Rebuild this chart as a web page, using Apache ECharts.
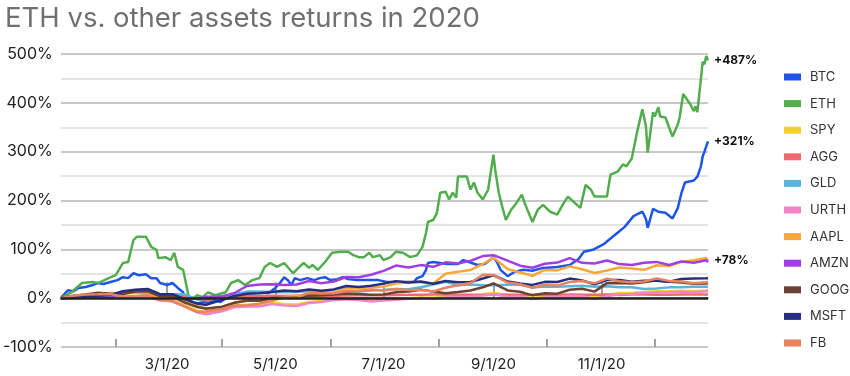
<!DOCTYPE html>
<html>
<head>
<meta charset="utf-8">
<script src="https://cdn.jsdelivr.net/npm/echarts@6/dist/echarts.min.js"></script>
<style>
html,body{margin:0;padding:0;background:#fff;}
#chart{width:850px;height:376px;}
</style>
</head>
<body>
<div id="chart"></div>
<script>
// ---- data (x = day of year 2020, 0 = Jan 1) ----
var assetNames = ['BTC','ETH','SPY','AGG','GLD','URTH','AAPL','AMZN','GOOG','MSFT','FB'];
var majorTickDays = [60,121,182,244,305];
var tickLabels = ['3/1/20','5/1/20','7/1/20','9/1/20','11/1/20'];
var minorTickDays = [31,91,152,213,274,335];

var ethPoints = [[0,0],[6,12],[12,31],[18,33],[21,31],[27,41],[31,47],[35,72],[38,74],[41,119],[43,126],[48,126],[51,105],[54,99],[55,82],[59,84],[62,78],[64,93],[66,64],[69,58],[72,6],[73,-4],[77,6],[80,2],[83,12],[87,6],[93,12],[96,31],[100,37],[104,27],[108,37],[112,41],[115,64],[118,72],[122,64],[126,72],[131,51],[134,62],[137,72],[140,62],[142,68],[145,58],[149,74],[153,93],[158,95],[162,95],[165,88],[168,84],[171,84],[174,93],[176,84],[180,88],[182,78],[186,84],[189,95],[190,93],[193,93],[197,84],[201,88],[204,105],[206,134],[207,156],[210,160],[212,173],[214,216],[217,218],[219,202],[221,216],[223,206],[224,249],[229,249],[231,222],[233,237],[235,216],[238,202],[241,222],[244,294],[245,263],[247,216],[249,187],[251,160],[254,181],[257,195],[260,212],[262,191],[266,156],[269,181],[272,191],[276,177],[280,171],[283,191],[286,208],[289,198],[293,185],[296,232],[299,222],[301,208],[306,208],[308,208],[310,253],[314,259],[317,274],[319,270],[322,286],[325,340],[328,387],[330,352],[331,298],[334,381],[335,372],[337,391],[338,372],[341,370],[343,350],[345,331],[348,356],[349,370],[351,418],[352,422],[355,397],[357,383],[358,393],[359,381],[361,449],[362,484],[363,479],[364,496],[365,487]];

var btcPoints = [[0,0],[4,16],[7,14],[10,21],[14,23],[18,27],[21,31],[24,29],[28,33],[32,37],[35,43],[38,41],[41,51],[44,47],[48,49],[51,41],[54,41],[56,31],[60,27],[63,31],[66,21],[69,12],[70,2],[72,-4],[75,-14],[78,-10],[81,-8],[83,-10],[87,-4],[90,-8],[93,0],[97,6],[100,2],[103,10],[106,12],[110,12],[114,12],[117,10],[121,21],[124,33],[126,43],[128,37],[130,27],[132,41],[135,37],[139,41],[143,37],[146,41],[149,43],[152,37],[156,39],[159,43],[162,39],[167,37],[173,37],[179,37],[184,33],[190,33],[195,33],[199,33],[201,41],[204,45],[206,58],[207,72],[210,74],[214,72],[218,70],[224,70],[227,78],[231,73],[235,68],[239,70],[244,84],[246,74],[248,58],[252,45],[256,54],[261,58],[266,56],[272,62],[280,64],[287,68],[292,80],[295,95],[300,99],[306,110],[309,119],[314,134],[318,146],[323,168],[328,177],[330,162],[331,144],[334,183],[337,177],[341,175],[345,163],[348,185],[349,200],[350,215],[352,237],[357,241],[359,249],[361,270],[362,290],[363,300],[364,311],[365,321]];

var weekDays = [0,7,14,21,28,35,42,49,56,63,70,77,82,91,98,105,112,119,126,133,140,147,154,161,168,175,182,189,196,203,210,217,224,231,238,244,252,259,266,273,280,287,294,301,308,315,322,329,336,343,350,357,364,365];

var spyValues = [0,0.8,2.5,2.9,1.5,3.4,4.8,5.1,-2.8,-2.5,-14.8,-25.4,-30.7,-23.6,-14.9,-13.7,-13.3,-9,-11.8,-12.8,-7.8,-5.7,-3.1,-0.9,-3.1,-5.5,-3.5,-1.4,0,1.5,1,3.2,4.8,5,8,11.1,5.6,5.2,0.2,4,5.9,8,6.5,1.5,6.7,10.8,10.7,12.8,14,14,15,14.2,15.6,16.2];
var aggValues = [0,0.3,0.8,1.2,1.8,1.8,2,2.6,3.6,4.5,4,-2,-5,2,2.5,4,4.3,4.8,4.5,5,5.2,5.3,4.8,5.5,5.8,6.1,6.2,6.6,6.8,7.2,7.5,7.8,7,7.2,6.6,7.2,7.1,7.2,7.2,7.3,6.8,7.2,6.8,6.9,7.4,6.6,7.3,7.3,7.1,7.2,7.3,7.3,7.5,7.5];
var gldValues = [0,2.8,1.5,2.2,3.6,2.2,3.6,6.2,7.8,7.8,7.8,-2.7,-1.3,4.3,8.5,13.4,13.8,12.5,12,12.7,14.8,12,11.3,13.4,13.4,15.5,16.9,18.6,18.3,22.2,28,33.7,26.7,28,26.7,26.7,27.6,28,21.8,23.9,23.2,24.6,25.3,23.2,24.6,22.5,22.5,18.6,19.7,22.1,22.5,23.2,23.4,24.1];
var urthValues = [0,0.5,2,2.2,0,2,3.5,3.5,-5,-5,-17,-29,-33,-27,-18,-17,-17,-12,-15,-16,-10,-8,-4,-2,-4,-7,-5,-3,-1,0.5,-1,1.5,3,3,5.5,8,3,3.5,-1.5,1.5,3,5,4,-1.5,4,8,8.5,10.5,11.5,12,13,12,14,14];
var aaplValues = [0,3.3,6,8.2,10.4,9.5,11.4,10.6,-0.3,3.1,-6.1,-16,-23.6,-18,-9.4,-3.1,-6,-2,2.4,4.8,8.6,8.3,10.7,20.1,19.7,22.6,24,29.8,33.1,32.5,29.4,49.8,54,57.6,70,83,59.8,52.7,45.9,57.7,56.8,65.1,59.2,51.5,56.6,62.8,60.7,58,67.5,65.9,74.2,77.5,82.1,78];
var amznValues = [0,2.3,0.8,2.1,0.6,10.3,16.4,17.4,7.1,6.9,-1.4,-1,2.9,3.2,10.6,24.9,27.9,28.4,27.2,28.1,35.1,30.4,34.1,43.3,42.9,48,55.8,66.7,62.8,67.7,64.2,73.4,71.1,76.4,86.2,88,76.9,66.6,62.3,70.4,72.9,82,72.3,71.1,77,69.8,68,72.4,74.3,68,75.3,72.4,77.8,74];
var googValues = [0,5,7.6,11.1,9,8.3,13.6,14.1,4,3.7,-9.1,-18,-21,-17.4,-9.4,-5.5,-5.5,0.4,0.7,0.9,5.2,6,7.6,9.6,8.5,7.1,7.6,12,13.6,17.3,13.8,10.2,12.6,15.7,22.2,30.1,15.9,13.1,5.8,9.9,9.2,17.3,19.1,13.4,30.8,31,29.9,32.5,36.6,33.4,31.9,29.5,30,31];
var msftValues = [0,3.4,3.5,5.1,6.5,14.1,17.1,18.8,8.2,8.2,-2.6,-11,-13.8,-3.6,4.6,9,10,12.5,15.7,14,17.8,15.3,17.6,24.8,23.1,25.4,29.8,34.9,31.9,34.3,29.4,35,32.5,33,40.3,46.9,34,30,27.2,33.4,33,40.1,36.1,28.5,37.2,37.4,33.8,35.6,35.8,33.8,39.1,40.1,40.6,41];
var fbValues = [0,4.8,7.7,7.8,8.7,2.8,3.8,6,-4,-6.9,-17.2,-28.4,-27.4,-22.2,-15.2,-14.3,-11.2,-5.4,1.6,-0.1,11.6,9.6,10.1,14,14.5,17.9,15.7,18.7,16.8,16.9,13.7,21.3,26.6,31.1,48.1,47.4,32,28.6,21.3,27.6,25.7,33,35.3,30.4,40,34.7,32.5,34.3,40.1,35.4,34.3,30.6,32.5,33.1];

var colors = {
  BTC:'#1f55e6', ETH:'#52ad4f', SPY:'#f0d22a', AGG:'#ef6a6f', GLD:'#5bb5da', URTH:'#f283c9',
  AAPL:'#f8a83a', AMZN:'#a03ee6', GOOG:'#6d4233', MSFT:'#242f80', FB:'#e8825f'
};

function pair(days, vals){ return days.map(function(d,i){ return [d, vals[i]]; }); }
var seriesData = {
  BTC: btcPoints, ETH: ethPoints,
  SPY: pair(weekDays, spyValues), AGG: pair(weekDays, aggValues), GLD: pair(weekDays, gldValues),
  URTH: pair(weekDays, urthValues), AAPL: pair(weekDays, aaplValues), AMZN: pair(weekDays, amznValues),
  GOOG: pair(weekDays, googValues), MSFT: pair(weekDays, msftValues), FB: pair(weekDays, fbValues)
};
var labelled = {BTC:true, ETH:true, AAPL:true};
var FONT = 'Inter, "Noto Sans", sans-serif';

var series = [{
  name:'zero', type:'line', data:[], z:1, silent:true,
  markLine:{silent:true, symbol:'none', label:{show:false},
    lineStyle:{color:'#222', width:2.5, type:'solid'}, data:[{yAxis:0}]}
}];
assetNames.forEach(function(n){
  series.push({
    name:n, type:'line', data:seriesData[n], showSymbol:false, symbol:'none', z:2,
    lineStyle:{width:2.5, color:colors[n]}, itemStyle:{color:colors[n]},
    emphasis:{disabled:true},
    endLabel: labelled[n] ? {show:true, distance:6, fontFamily:FONT, fontSize:12, fontWeight:'bold', color:'#111',
      formatter:function(p){ return '+' + Math.round(p.value[1]) + '%'; }} : {show:false}
  });
});

var chart = echarts.init(document.getElementById('chart'), null, {renderer:'canvas'});
chart.setOption({
  animation:false,
  title:{text:'ETH vs. other assets returns in 2020', left:0, top:0,
    textStyle:{fontFamily:FONT, fontSize:27.5, fontWeight:'normal', color:'#707070'}},
  legend:{data:assetNames, orient:'vertical', left:779, top:64, itemWidth:17, itemHeight:7, itemGap:10.6,
    icon:'rect', textStyle:{fontFamily:FONT, fontSize:13, color:'#333', lineHeight:16, padding:[0,0,0,4]}},
  grid:{left:60, right:142, top:54, bottom:29, containLabel:false},
  xAxis:[{
    type:'value', min:0, max:365, position:'bottom',
    axisLine:{show:true, lineStyle:{color:'#a0a0a0', width:2}},
    axisTick:{show:true, customValues:majorTickDays, inside:true, length:16, lineStyle:{color:'#a0a0a0', width:2}},
    axisLabel:{show:true, customValues:majorTickDays, margin:10, fontFamily:FONT, fontSize:15, color:'#222',
      formatter:function(v){ var i = majorTickDays.indexOf(v); return i >= 0 ? tickLabels[i] : ''; }},
    splitLine:{show:false}
  },{
    type:'value', min:0, max:365, position:'bottom',
    axisLine:{show:false},
    axisTick:{show:true, customValues:minorTickDays, inside:true, length:8, lineStyle:{color:'#a0a0a0', width:2}},
    axisLabel:{show:false}, splitLine:{show:false}
  }],
  yAxis:{
    type:'value', min:-100, max:500, interval:100,
    axisLine:{show:false}, axisTick:{show:false},
    axisLabel:{margin:8, fontFamily:FONT, fontSize:16, color:'#222', formatter:'{value}%'},
    splitLine:{show:true, lineStyle:{color:'#c8c8c8', width:2}},
    minorTick:{show:false, splitNumber:2},
    minorSplitLine:{show:true, lineStyle:{color:'#e4e4e4', width:2}}
  },
  series:series
});
</script>
</body>
</html>
